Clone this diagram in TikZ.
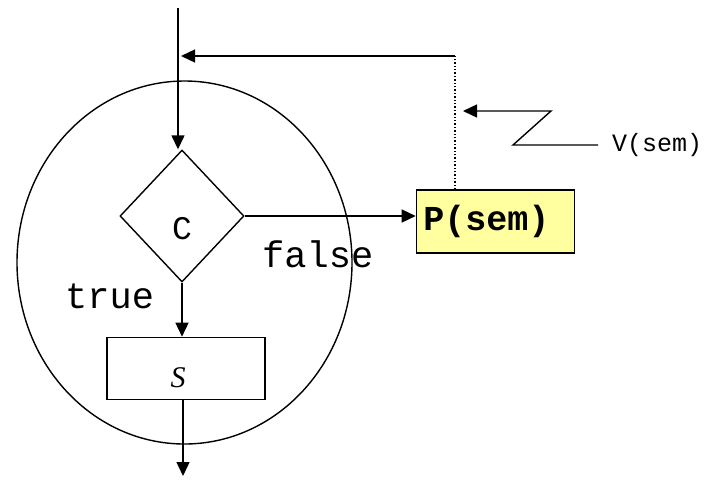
\documentclass[tikz,border=0pt]{standalone}
\usepackage{fontspec}
\setmainfont{Liberation Serif}
\setmonofont{Liberation Mono}
\usepackage{tikz}
\usetikzlibrary{arrows.meta, positioning, shapes.geometric}
\definecolor{semyellow}{RGB}{255,255,160}

\begin{document}
\begin{tikzpicture}[x=1pt, y=-1pt,
      loop/.style={ellipse, draw, line width=1.4pt, minimum width=335pt,
                   minimum height=363pt, inner sep=0pt},
      test/.style={diamond, draw, line width=1.4pt, minimum width=124pt,
                   minimum height=132pt, inner sep=0pt,
                   font=\fontsize{33}{35}\selectfont\ttfamily},
      body/.style={rectangle, draw, line width=1.4pt, minimum width=158pt,
                   minimum height=62pt, inner sep=0pt,
                   font=\fontsize{30}{32}\selectfont\itshape},
      sem/.style={rectangle, draw, line width=1.4pt, fill=semyellow,
                  minimum height=63pt, text width=144pt, inner sep=7pt,
                  align=left, font=\fontsize{35}{37}\selectfont\ttfamily\bfseries},
      lbl/.style={anchor=base west, inner sep=0pt,
                  font=\fontsize{37}{39}\selectfont\ttfamily},
      arr/.style={-{Triangle[length=14pt, width=13pt]}, line width=1.4pt},
      ]
    \useasboundingbox (0,0) rectangle (706,483);

    % loop body
    \node[loop] (loop) at (184.5,262.5) {};
    \node[test] (dia) at (182,216) {\raisebox{-23pt}[0pt][0pt]{C}};
    \node[body, below=54pt of dia, xshift=4pt] (s) {\raisebox{-19pt}[0pt][0pt]{S\kern16pt}};
    \node[sem, right=171pt of dia, yshift=-5.5pt] (p) {P(sem)};

    \node[lbl] (false) at (262,267) {false};
    \node[lbl] (true) at (65,308) {true};

    % entry, exit
    \coordinate (in) at (178,8);
    \coordinate (out) at (183,476);
    \draw[arr] (in) -- (in |- dia.north);
    \draw[arr] (dia.south) -- (dia.south |- s.north);
    \draw[arr] (s.south -| out) -- (out);
    \draw[arr] (dia.east) -- (dia.east -| p.west);

    % signal back to the entry
    \coordinate (fb) at (455,56);
    \draw[line width=1.4pt, dotted] (p.north -| fb) -- (fb);
    \draw[arr, shorten >=3pt] (fb) -- (fb -| in);

    % V(sem)
    \node[anchor=west, inner xsep=14pt, inner ysep=0pt,
          font=\fontsize{25}{27}\selectfont\ttfamily] (v) at (598,145) {V(sem)};
    \draw[arr] (v.west) -- ++(-85,0) -- ++(38,-34) -- ++(-88,0);
  \end{tikzpicture}
\end{document}
